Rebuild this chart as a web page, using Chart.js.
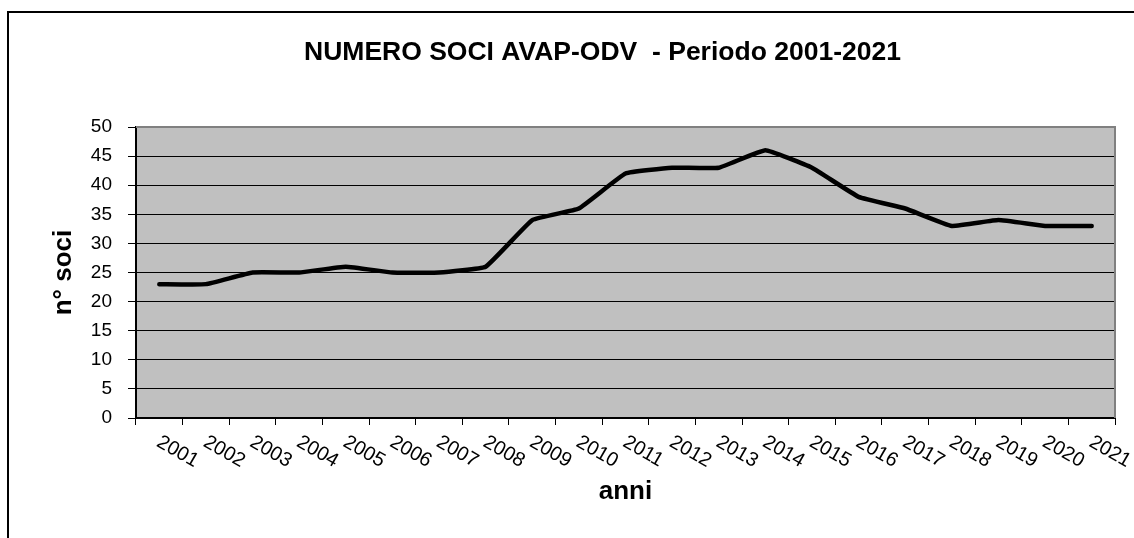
<!DOCTYPE html>
<html>
<head>
<meta charset="utf-8">
<script src="https://cdn.jsdelivr.net/npm/chart.js@4/dist/chart.umd.min.js"></script>
<style>
  html, body { margin: 0; padding: 0; background: #fff; overflow: hidden; }
  #frame { position: absolute; left: 7px; top: 11px; width: 1200px; height: 600px; border: 2px solid #000; }
  #wrap { position: absolute; left: 0; top: 0; width: 1134px; height: 538px; }
</style>
</head>
<body>
<div id="frame"></div>
<div id="wrap"><canvas id="chart"></canvas></div>
<script>
var anni = ['2001', '2002', '2003', '2004', '2005', '2006', '2007', '2008', '2009', '2010', '2011',
            '2012', '2013', '2014', '2015', '2016', '2017', '2018', '2019', '2020', '2021'];
var soci = [23, 23, 25, 25, 26, 25, 25, 26, 34, 36, 42, 43, 43, 46, 43, 38, 36, 33, 34, 33, 33];
var yMin = 0, yMax = 50, yStep = 5;

var FONT = "'Liberation Sans', Arial, sans-serif";

// grey plot area + grey top/right border, like the old excel chart
var plotArea = {
  id: 'plotArea',
  beforeDraw: function(chart) {
    var a = chart.chartArea, ctx = chart.ctx;
    ctx.save();
    ctx.fillStyle = '#c0c0c0';
    ctx.fillRect(a.left, a.top, a.right - a.left, a.bottom - a.top);
    ctx.restore();
  },
  afterDatasetsDraw: function(chart) {
    var a = chart.chartArea, ctx = chart.ctx;
    ctx.save();
    ctx.strokeStyle = '#808080';
    ctx.lineWidth = 2;
    ctx.beginPath();
    ctx.moveTo(a.left, a.top);
    ctx.lineTo(a.right, a.top);
    ctx.lineTo(a.right, a.bottom);
    ctx.stroke();
    ctx.restore();
  }
};

// year labels slanting down to the right
var slantLabels = {
  id: 'slantLabels',
  afterDraw: function(chart) {
    var x = chart.scales.x, ctx = chart.ctx;
    ctx.save();
    ctx.fillStyle = '#000';
    ctx.font = '20px ' + FONT;
    ctx.textAlign = 'left';
    ctx.textBaseline = 'top';
    chart.data.labels.forEach(function(lab, i) {
      ctx.save();
      ctx.translate(x.getPixelForTick(i) + 4, chart.chartArea.bottom + 14);
      ctx.rotate(30 * Math.PI / 180);
      ctx.fillText(lab, 0, 0);
      ctx.restore();
    });
    ctx.restore();
  }
};

var chart = new Chart(document.getElementById('chart'), {
  type: 'line',
  data: {
    labels: anni,
    datasets: [{
      data: soci,
      borderColor: '#000',
      borderWidth: 4.5,
      borderJoinStyle: 'round',
      borderCapStyle: 'round',
      tension: 0.1,
      pointRadius: 0,
      fill: false
    }]
  },
  options: {
    responsive: true,
    maintainAspectRatio: false,
    animation: false,
    layout: { padding: { left: 90, right: 19, top: 0, bottom: 0 } },
    plugins: {
      legend: { display: false },
      tooltip: { enabled: false },
      title: {
        display: true,
        text: 'NUMERO SOCI AVAP-ODV  - Periodo 2001-2021',
        color: '#000',
        font: { family: FONT, size: 26.5, weight: 'bold', lineHeight: 1.2 },
        padding: { top: 37, bottom: 58.2 }
      }
    },
    scales: {
      x: {
        offset: true,
        afterFit: function(s) { s.height = 120; },
        grid: { offset: true, drawOnChartArea: false, tickLength: 7, color: '#000' },
        border: { color: '#000', width: 2 },
        ticks: { display: false },
        title: {
          display: true,
          text: 'anni',
          color: '#000',
          font: { family: FONT, size: 26, weight: 'bold', lineHeight: 1.2 },
          padding: { top: 0, bottom: 30.4 }
        }
      },
      y: {
        min: yMin,
        max: yMax,
        afterFit: function(s) { s.width = 46; },
        ticks: { stepSize: yStep, padding: 16, color: '#000', font: { family: FONT, size: 19 } },
        grid: { color: '#000', lineWidth: 1, tickLength: 8 },
        border: { color: '#000', width: 2 },
        title: {
          display: true,
          text: 'n° soci',
          color: '#000',
          font: { family: FONT, size: 26, weight: 'bold', lineHeight: 1.2 },
          padding: { top: -41.6, bottom: 0 }
        }
      }
    }
  },
  plugins: [plotArea, slantLabels]
});
</script>
</body>
</html>
